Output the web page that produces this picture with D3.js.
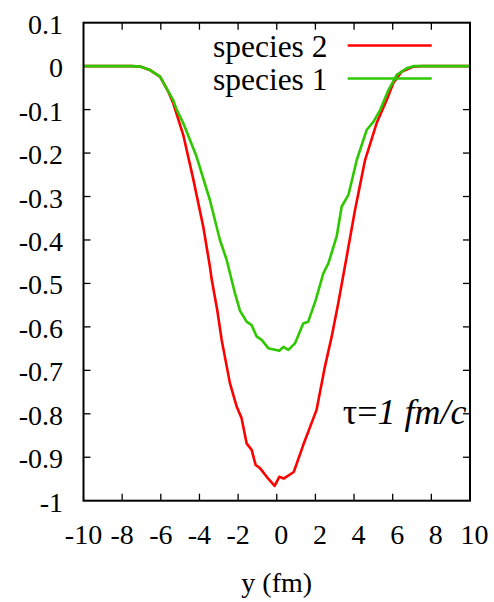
<!DOCTYPE html>
<html>
<head>
<meta charset="utf-8">
<script src="https://cdn.jsdelivr.net/npm/d3@7"></script>
<style>
  body { margin: 0; background: #fff; }
</style>
</head>
<body>
<svg id="chart" width="494" height="602"></svg>
<script>
// species 2 (red)
var s2X = [-10, -8, -7.5, -7.07, -6.56, -6.04, -5.6, -5.36, -4.84, -4.32, -3.8, -3.46, -3.37, -3.08, -2.85, -2.42, -2.07, -1.82, -1.56, -1.3, -1.09, -0.87, -0.52, -0.11, 0.13, 0.36, 0.88, 1.37, 2.06, 2.49, 2.84, 3.18, 3.62, 4.05, 4.57, 5.17, 5.69, 6.03, 6.46, 7.07, 7.5, 8, 10];
var s2Y = [0, 0, 0, -0.001, -0.009, -0.024, -0.06, -0.085, -0.158, -0.26, -0.37, -0.461, -0.49, -0.561, -0.63, -0.73, -0.784, -0.81, -0.868, -0.883, -0.918, -0.925, -0.945, -0.966, -0.945, -0.949, -0.934, -0.872, -0.791, -0.692, -0.623, -0.546, -0.438, -0.331, -0.216, -0.131, -0.078, -0.039, -0.013, -0.001, 0, 0, 0];

// species 1 (green)
var s1X = [-10, -8, -7.5, -7.07, -6.56, -6.04, -5.36, -5.18, -4.84, -4.15, -3.46, -2.94, -2.59, -2.25, -2.16, -1.9, -1.56, -1.3, -1.04, -0.78, -0.44, 0.13, 0.34, 0.6, 0.94, 1.37, 1.63, 2.02, 2.41, 2.67, 3.1, 3.36, 3.71, 4.14, 4.65, 5.0, 5.35, 5.78, 6.21, 6.72, 7.07, 8, 10];
var s1Y = [0, 0, 0, -0.001, -0.009, -0.024, -0.078, -0.1, -0.131, -0.208, -0.308, -0.4, -0.446, -0.507, -0.523, -0.563, -0.588, -0.596, -0.622, -0.63, -0.649, -0.655, -0.646, -0.653, -0.638, -0.592, -0.588, -0.538, -0.477, -0.454, -0.392, -0.323, -0.296, -0.216, -0.147, -0.128, -0.101, -0.055, -0.02, -0.005, 0, 0, 0];

var xTicks = [-10, -8, -6, -4, -2, 0, 2, 4, 6, 8, 10];
var yTicks = [0.1, 0, -0.1, -0.2, -0.3, -0.4, -0.5, -0.6, -0.7, -0.8, -0.9, -1];
var seriesNames = ["species 2", "species 1"];
var seriesColors = ["#ff0000", "#2ec800"];

var svg = d3.select("#chart")
  .attr("font-family", "'Liberation Serif', 'Times New Roman', Times, 'DejaVu Serif', serif");
var pLeft = 83.5, pRight = 470, pTop = 22.7, pBottom = 500.7;

var xScale = d3.scaleLinear().domain([-10, 10]).range([pLeft, pRight]);
var yScale = d3.scaleLinear().domain([-1, 0.1]).range([pBottom, pTop]);

var fmt = function(d) { return d === 0 ? "0" : String(+d.toFixed(1)); };

// ticks (inward, all four sides)
var tickLen = 7;
var g = svg.append("g").attr("stroke", "#000").attr("stroke-width", 1.3);
xTicks.slice(1, -1).forEach(function(t) {
  g.append("line").attr("x1", xScale(t)).attr("x2", xScale(t)).attr("y1", pBottom).attr("y2", pBottom - tickLen);
  g.append("line").attr("x1", xScale(t)).attr("x2", xScale(t)).attr("y1", pTop).attr("y2", pTop + tickLen);
});
yTicks.slice(1, -1).forEach(function(t) {
  g.append("line").attr("y1", yScale(t)).attr("y2", yScale(t)).attr("x1", pLeft).attr("x2", pLeft + tickLen);
  g.append("line").attr("y1", yScale(t)).attr("y2", yScale(t)).attr("x1", pRight).attr("x2", pRight - tickLen);
});

// tick labels
svg.append("g").selectAll("text").data(yTicks).enter().append("text")
  .attr("x", 63)
  .attr("y", function(d) { return yScale(d) + 11; })
  .attr("text-anchor", "end")
  .attr("font-size", 28)
  .text(fmt);

svg.append("g").selectAll("text").data(xTicks).enter().append("text")
  .attr("x", function(d) { return xScale(d) + (d >= 0 ? 4.5 : 0); })
  .attr("y", 543.5)
  .attr("text-anchor", "middle")
  .attr("font-size", 28)
  .text(function(d) { return String(d); });

svg.append("text")
  .attr("x", (pLeft + pRight) / 2)
  .attr("y", 592)
  .attr("text-anchor", "middle")
  .attr("font-size", 28)
  .text("y (fm)");

// curves
var line = d3.line()
  .x(function(d) { return xScale(d[0]); })
  .y(function(d) { return yScale(d[1]); });

var curves = [d3.zip(s2X, s2Y), d3.zip(s1X, s1Y)];
svg.append("g").selectAll("path").data(curves).enter().append("path")
  .attr("d", line)
  .attr("fill", "none")
  .attr("stroke", function(d, i) { return seriesColors[i]; })
  .attr("stroke-width", 2.6)
  .attr("stroke-linejoin", "round");

// frame
svg.append("rect")
  .attr("x", pLeft).attr("y", pTop)
  .attr("width", pRight - pLeft).attr("height", pBottom - pTop)
  .attr("fill", "none").attr("stroke", "#000").attr("stroke-width", 2);

// legend
var leg = svg.append("g");
seriesNames.forEach(function(name, i) {
  var ly = 45.5 + i * 33;
  leg.append("text")
    .attr("x", 327.5).attr("y", ly + 11)
    .attr("text-anchor", "end")
    .attr("font-size", 31.5)
    .text(name);
  leg.append("line")
    .attr("x1", 347.7).attr("x2", 431.7)
    .attr("y1", ly).attr("y2", ly)
    .attr("stroke", seriesColors[i]).attr("stroke-width", 2.6);
});

// annotation
var ann = svg.append("text")
  .attr("x", 466.5).attr("y", 424)
  .attr("text-anchor", "end")
  .attr("font-size", 36);
ann.append("tspan").text("\u03c4=");
ann.append("tspan").attr("font-style", "italic").text("1 fm/c");
</script>
</body>
</html>
